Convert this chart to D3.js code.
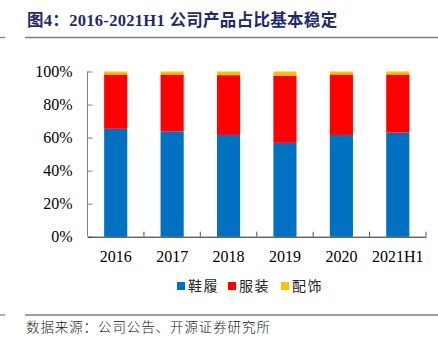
<!DOCTYPE html>
<html><head><meta charset="utf-8">
<script src="https://cdn.jsdelivr.net/npm/d3@7"></script>
<style>body{margin:0;background:#fff}svg{display:block}</style>
</head><body>
<script>
const categories = ["2016","2017","2018","2019","2020","2021H1"];
const seriesNames = ["鞋履","服装","配饰"];
const footwear = [65.3, 63.8, 61.6, 56.8, 61.6, 63.0];
const apparel = [32.9, 34.4, 36.2, 40.7, 36.6, 35.2];
const accessories = [1.8, 1.8, 2.2, 2.5, 1.8, 1.8];
const yTicks = [0, 20, 40, 60, 80, 100];
const colors = ["#0070C0", "#FF0000", "#FFC000"];
const titleText = "图4：2016-2021H1 公司产品占比基本稳定";
const sourceText = "数据来源：公司公告、开源证券研究所";

const W = 438, H = 341;
const svg = d3.select("body").append("svg").attr("width", W).attr("height", H);

const serif = "'Liberation Serif','Times New Roman',serif";
const cjk = "'Liberation Serif','Noto Sans CJK SC',serif";

// header
svg.append("text").attr("x", 27).attr("y", 26)
  .attr("font-family", cjk).attr("font-weight", "bold").attr("font-size", 16.5)
  .attr("letter-spacing", 0.3)
  .attr("fill", "#1c2a6e").text(titleText);
[[0,5],[25,438]].forEach(([a,b]) => {
  svg.append("line").attr("x1", a).attr("x2", b).attr("y1", 37.5).attr("y2", 37.5)
    .attr("stroke", "#808080").attr("stroke-width", 1.3);
  svg.append("line").attr("x1", a).attr("x2", b).attr("y1", 315).attr("y2", 315)
    .attr("stroke", "#808080").attr("stroke-width", 1.3);
});
svg.append("text").attr("x", 26).attr("y", 332)
  .attr("font-family", "'Noto Sans CJK SC',sans-serif").attr("font-weight", 300).attr("font-size", 13.5)
  .attr("letter-spacing", 0.9)
  .attr("fill", "#222").text(sourceText);

const x = d3.scaleBand().domain(categories).range([87.5, 426]).paddingInner(0.59).paddingOuter(0.295);
const xOuter = d3.scaleBand().domain(categories).range([87.5, 426]);
const y = d3.scaleLinear().domain([0, 100]).range([236.7, 71.5]);

const stackData = categories.map((c, i) => ({cat: c, s0: footwear[i], s1: apparel[i], s2: accessories[i]}));
const stack = d3.stack().keys(["s0","s1","s2"])(stackData);

svg.append("g").selectAll("g").data(stack).join("g")
  .attr("fill", (d, i) => colors[i])
  .selectAll("rect").data(d => d).join("rect")
  .attr("x", d => x(d.data.cat))
  .attr("width", x.bandwidth())
  .attr("y", d => y(d[1]))
  .attr("height", d => y(d[0]) - y(d[1]));

// y axis
const yAxis = svg.append("g").attr("transform", "translate(87.5,0)")
  .call(d3.axisLeft(y).tickValues(yTicks).tickSize(-5).tickPadding(15).tickFormat(d => d + "%"));
yAxis.select(".domain").attr("stroke", "#808080").attr("d", `M0,${y(100)}V${y(0)}`);
yAxis.selectAll(".tick line").attr("stroke", "#808080");
yAxis.selectAll("text").attr("font-family", serif).attr("font-size", 16).attr("fill", "#000");

// x axis
const xAxis = svg.append("g").attr("transform", `translate(0,${y(0)})`)
  .call(d3.axisBottom(x).tickSize(0).tickPadding(14));
xAxis.select(".domain").attr("stroke", "#222");
xAxis.selectAll("text").attr("font-family", serif).attr("font-size", 16).attr("fill", "#000");
svg.append("g").selectAll("line").data(categories).join("line")
  .attr("x1", d => xOuter(d) + xOuter.bandwidth()).attr("x2", d => xOuter(d) + xOuter.bandwidth())
  .attr("y1", y(0)).attr("y2", y(0) - 5).attr("stroke", "#555");

// legend
const legendX = [177, 228, 281];
const lg = svg.append("g").selectAll("g").data(seriesNames).join("g")
  .attr("transform", (d, i) => `translate(${legendX[i]},286)`);
lg.append("rect").attr("x", 0).attr("y", -4).attr("width", 8).attr("height", 8).attr("fill", (d, i) => colors[i]);
lg.append("text").attr("x", 11).attr("y", 5).attr("font-family", "'Noto Sans CJK SC',sans-serif")
  .attr("font-size", 14).attr("letter-spacing", 1.5).attr("fill", "#222").text(d => d);
</script>
</body></html>
